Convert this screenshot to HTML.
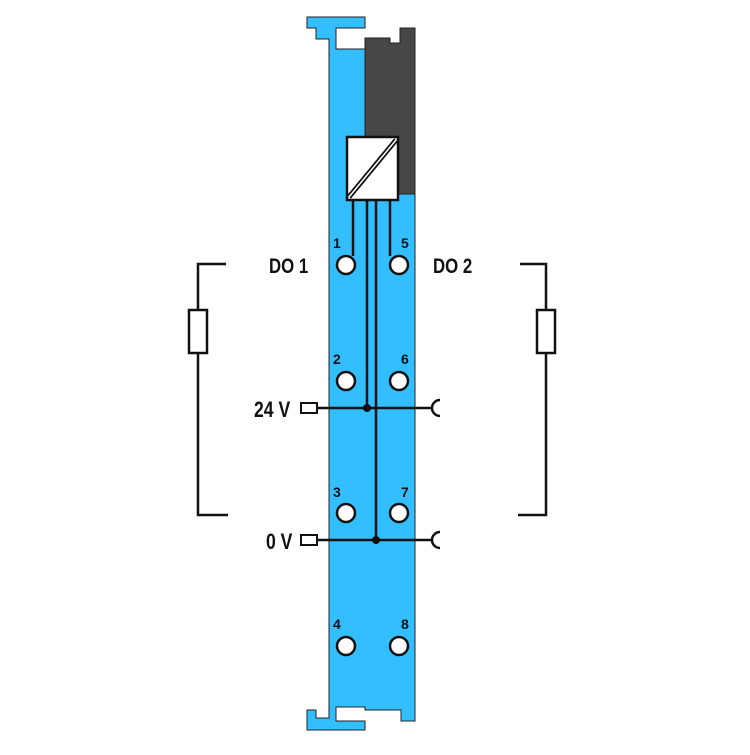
<!DOCTYPE html>
<html><head><style>html,body{margin:0;padding:0;background:#fff}</style></head><body>
<svg width="750" height="750" viewBox="0 0 750 750" xmlns="http://www.w3.org/2000/svg" font-family="Liberation Sans, sans-serif" font-weight="bold">
<path d="M307,17 H365 V28 H336 V49 H365 V38 H390 V43 H400 V28 H415 V721 H401 V710 H365 V707 H336 V721 H365 V730 H307 V710 H316 V718 H329 V39 H316 V28 H307 Z" fill="#33bfff" stroke="#222" stroke-width="1"/>
<path d="M365,38 H390 V43 H400 V28 H415 V194 H365 Z" fill="#474747" stroke="#222" stroke-width="1"/>
<rect x="347" y="137" width="51" height="63" fill="#fff" stroke="#111" stroke-width="2.5"/>
<line x1="349" y1="197" x2="396" y2="140" stroke="#111" stroke-width="5"/>
<line x1="349" y1="197" x2="396" y2="140" stroke="#fff" stroke-width="1.5"/>
<g stroke="#111" stroke-width="2.5" fill="none">
<line x1="353" y1="200" x2="353" y2="256"/>
<line x1="390" y1="200" x2="390" y2="256"/>
<line x1="367" y1="200" x2="367" y2="408"/>
<line x1="376" y1="200" x2="376" y2="540"/>
<line x1="318" y1="408" x2="432" y2="408"/>
<line x1="318" y1="540" x2="432" y2="540"/>
<rect x="301" y="403" width="16" height="10" fill="#fff" stroke-width="2"/>
<rect x="301" y="535" width="16" height="10" fill="#fff" stroke-width="2"/>
<path d="M440,400 A8,8 0 0 0 440,416"/>
<path d="M440,532 A8,8 0 0 0 440,548"/>
<path d="M226,264 H198 V515 H228"/>
<path d="M520,264 H546 V515 H518"/>
<rect x="189" y="310" width="18" height="43" fill="#fff"/>
<rect x="537" y="310" width="18" height="43" fill="#fff"/>
</g>
<circle cx="367" cy="408" r="4" fill="#111"/>
<circle cx="376" cy="540" r="4" fill="#111"/>
<g fill="#fff" stroke="#111" stroke-width="2.5">
<circle cx="346" cy="265" r="9"/><circle cx="399" cy="265" r="9"/>
<circle cx="346" cy="381" r="9"/><circle cx="399" cy="381" r="9"/>
<circle cx="346" cy="513" r="9"/><circle cx="399" cy="513" r="9"/>
<circle cx="346" cy="646" r="9"/><circle cx="399" cy="646" r="9"/>
</g>
<g fill="#111" font-size="14">
<text x="333" y="248">1</text><text x="401" y="248">5</text>
<text x="333" y="364">2</text><text x="401" y="364">6</text>
<text x="333" y="497">3</text><text x="401" y="497">7</text>
<text x="333" y="629">4</text><text x="401" y="629">8</text>
</g>
<g fill="#111" font-size="21" font-weight="bold">
<text transform="translate(269,273) scale(0.8,1)">DO 1</text>
<text transform="translate(433,273) scale(0.8,1)">DO 2</text>
<text transform="translate(254,417) scale(0.8,1)" font-size="22">24 V</text>
<text transform="translate(266,549) scale(0.8,1)" font-size="22">0 V</text>
</g>
</svg>
</body></html>
